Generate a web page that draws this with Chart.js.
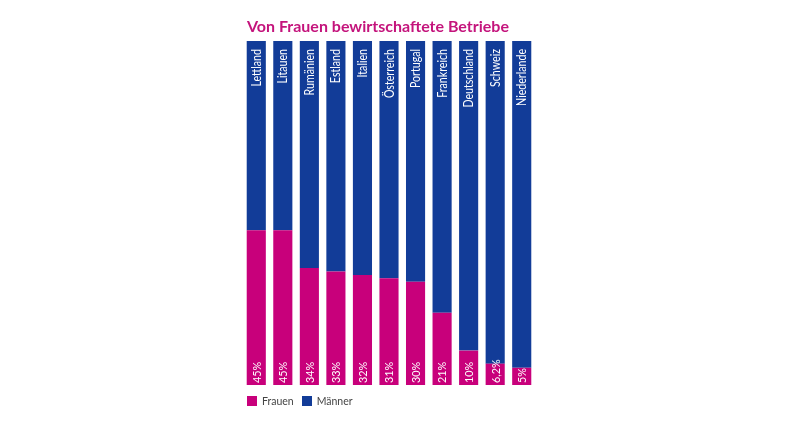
<!DOCTYPE html>
<html>
<head>
<meta charset="utf-8">
<script src="https://cdn.jsdelivr.net/npm/chart.js@4"></script>
<style>
  html, body { margin: 0; padding: 0; background: #fff; }
  #wrap { position: relative; width: 800px; height: 427px; }
  #chart { position: absolute; left: 0; top: 0; }
  .title {
    position: absolute; left: 247px; top: 16px;
    font-family: Lato, sans-serif; font-weight: bold; font-size: 16px;
    color: #c4147c; white-space: nowrap; line-height: 19px;
  }
  .legend {
    position: absolute; left: 247px; top: 395px;
    font-family: Lato, sans-serif; font-size: 10.5px; color: #444;
    display: flex; align-items: center; line-height: 12px;
  }
  .legend span.box { display: inline-block; width: 10px; height: 10px; margin-right: 5px; }
  .legend span.lbl { margin-right: 8px; }
</style>
</head>
<body>
<div id="wrap">
  <canvas id="chart" width="800" height="427"></canvas>
  <div class="title">Von Frauen bewirtschaftete Betriebe</div>
  <div class="legend">
    <span class="box" style="background:#c8007b"></span><span class="lbl">Frauen</span>
    <span class="box" style="background:#123c98"></span><span class="lbl">Männer</span>
  </div>
</div>
<script>
const countries = ["Lettland", "Litauen", "Rumänien", "Estland", "Italien", "Österreich",
  "Portugal", "Frankreich", "Deutschland", "Schweiz", "Niederlande"];
const frauen = [45, 45, 34, 33, 32, 31, 30, 21, 10, 6.2, 5];
const frauenLabels = ["45%", "45%", "34%", "33%", "32%", "31%", "30%", "21%", "10%", "6,2%", "5%"];
const maenner = frauen.map(v => 100 - v);

const pink = "#c8007b";
const blue = "#123c98";

// schreibt Ländernamen und Prozentwerte senkrecht in die Balken
const barLabels = {
  id: "barLabels",
  afterDatasetsDraw(chart) {
    const ctx = chart.ctx;
    const x = chart.scales.x;
    const y = chart.scales.y;
    ctx.save();
    ctx.fillStyle = "#fff";
    ctx.textBaseline = "middle";
    countries.forEach((name, i) => {
      const cx = x.getPixelForValue(i) + 0.5;
      // Name oben (etwas schmaler gezogen, wie die Vorlage)
      ctx.save();
      ctx.translate(cx, y.getPixelForValue(100) + 8);
      ctx.rotate(-Math.PI / 2);
      ctx.scale(0.85, 1);
      ctx.textAlign = "right";
      ctx.font = "12.5px Lato, sans-serif";
      ctx.fillText(name, 0, 0);
      ctx.restore();
      // Prozent unten
      ctx.save();
      ctx.translate(cx, y.getPixelForValue(0) - 2);
      ctx.rotate(-Math.PI / 2);
      ctx.scale(0.9, 1);
      ctx.textAlign = "left";
      ctx.font = "12px Lato, sans-serif";
      ctx.fillText(frauenLabels[i], 0, 0);
      ctx.restore();
    });
    ctx.restore();
  }
};

new Chart(document.getElementById("chart"), {
  type: "bar",
  data: {
    labels: countries,
    datasets: [
      { label: "Frauen", data: frauen, backgroundColor: pink, barPercentage: 0.72, categoryPercentage: 1 },
      { label: "Männer", data: maenner, backgroundColor: blue, barPercentage: 0.72, categoryPercentage: 1 }
    ]
  },
  options: {
    responsive: false,
    animation: false,
    layout: { padding: { left: 243, right: 265, top: 41, bottom: 42 } },
    plugins: {
      legend: { display: false },
      title: { display: false },
      tooltip: { enabled: false }
    },
    scales: {
      x: { stacked: true, display: false },
      y: { stacked: true, display: false, min: 0, max: 100 }
    }
  },
  plugins: [barLabels]
});
</script>
</body>
</html>
